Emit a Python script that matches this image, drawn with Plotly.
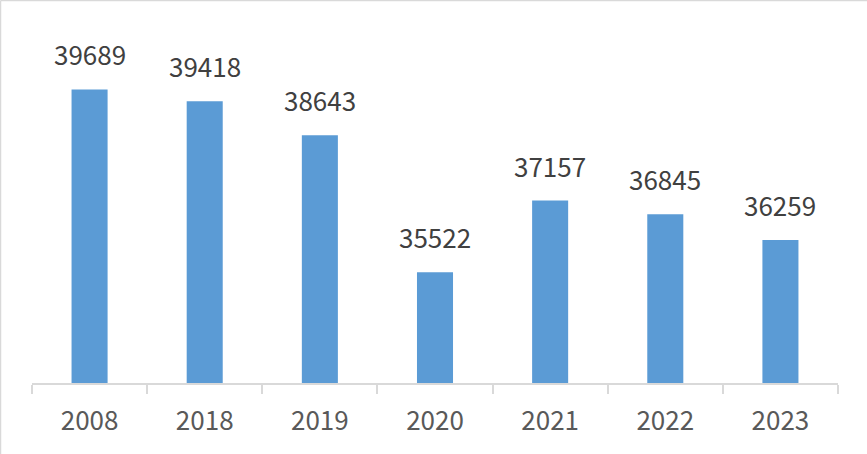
import plotly.graph_objects as go

years = ["2008", "2018", "2019", "2020", "2021", "2022", "2023"]
values = [39689, 39418, 38643, 35522, 37157, 36845, 36259]

BAR_COLOR = "#5b9bd5"
AXIS_COLOR = "#d9d9d9"
FONT = "Noto Sans CJK KR, Open Sans, sans-serif"

W, H = 867, 454
ML, MR, MT, MB = 32, 29, 10, 71

fig = go.Figure(go.Bar(
    x=years,
    y=values,
    marker_color=BAR_COLOR,
    marker_line_width=0,
    hoverinfo="x+y",
))

# data labels above each bar (x given as category index)
for i, v in enumerate(values):
    fig.add_annotation(
        x=i, y=v, text=str(v), showarrow=False,
        yanchor="bottom", yshift=15,
        font=dict(family=FONT, size=26, color="#404040"),
    )

# chart frame: only top and left edges show in the original crop
pw = W - ML - MR
ph = H - MT - MB
left = -(ML - 0.5) / pw
top = 1 + (MT - 0.5) / ph
fig.add_shape(type="line", xref="paper", yref="paper",
              x0=left, x1=1 + MR / pw, y0=top, y1=top,
              line=dict(color=AXIS_COLOR, width=1.5))
fig.add_shape(type="line", xref="paper", yref="paper",
              x0=left, x1=left, y0=-MB / ph, y1=top,
              line=dict(color=AXIS_COLOR, width=1.5))

fig.update_layout(
    width=W, height=H,
    margin=dict(l=ML, r=MR, t=MT, b=MB, autoexpand=False),
    paper_bgcolor="white",
    plot_bgcolor="white",
    bargap=0.687,
    showlegend=False,
    font=dict(family=FONT, color="#595959"),
    xaxis=dict(
        type="category",
        range=[-0.5, len(years) - 0.5],
        showline=True, linecolor=AXIS_COLOR, linewidth=1.5,
        ticks="outside", tickson="boundaries", ticklen=9,
        tickcolor=AXIS_COLOR, tickwidth=1.5,
        tickfont=dict(family=FONT, size=26, color="#595959"),
        tickangle=0,
        ticklabelstandoff=14,
        showgrid=False,
    ),
    yaxis=dict(
        range=[33000, 41500],
        visible=False,
        showgrid=False,
        zeroline=False,
    ),
)

fig.write_html(
    "out.html",
    config={"displayModeBar": False},
    post_script="document.body.style.margin='0';",
)
